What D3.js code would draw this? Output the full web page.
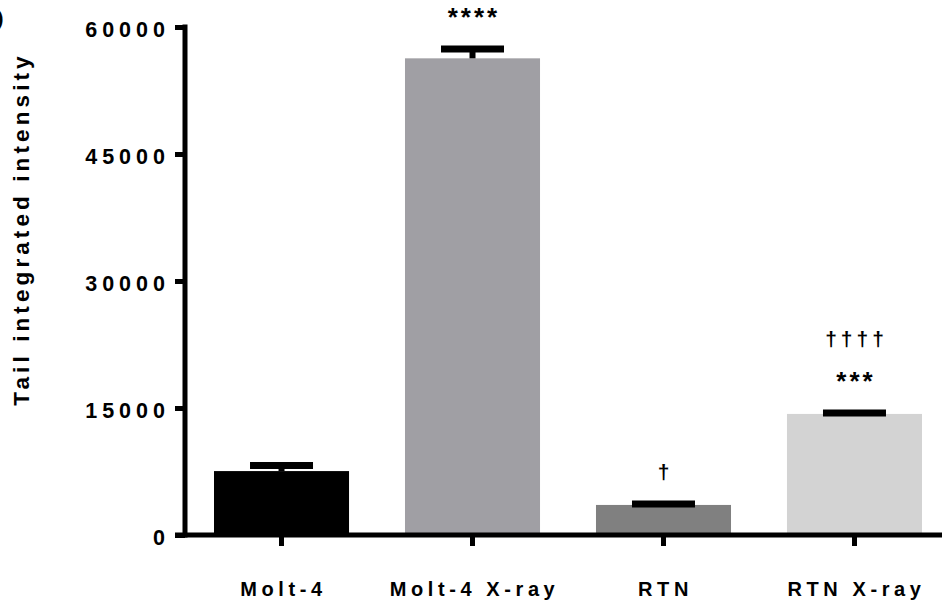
<!DOCTYPE html>
<html>
<head>
<meta charset="utf-8">
<script src="https://cdn.jsdelivr.net/npm/d3@7"></script>
<style>
  body { margin: 0; background: #fff; }
  svg { display: block; font-family: "Liberation Sans", Arial, sans-serif; font-weight: bold; }
</style>
</head>
<body>
<div id="chart"></div>
<script>
// data
const categories = ["Molt-4", "Molt-4 X-ray", "RTN", "RTN X-ray"];
const means = [7550, 56300, 3550, 14300];
const errors = [650, 1100, 120, 100];
const colors = ["#000000", "#a09fa4", "#808080", "#d3d3d3"];
const marks = ["", "****", "\u2020", "\u2020\u2020\u2020\u2020\n***"];
const yTicks = [0, 15000, 30000, 45000, 60000];

const width = 942, height = 605;

const svg = d3.select("#chart").append("svg")
    .attr("width", width)
    .attr("height", height);

const y = d3.scaleLinear().domain([0, 60000]).range([535, 27]);
const x = d3.scaleBand()
    .domain(categories)
    .range([214, 922])
    .paddingInner(0.293)
    .paddingOuter(0);

// panel letter, mostly cut off like in the source figure
svg.append("text")
    .attr("x", -22).attr("y", 33)
    .attr("font-size", 36)
    .text("D");

// bars
svg.selectAll("rect.bar")
    .data(categories)
    .enter().append("rect")
    .attr("class", "bar")
    .attr("x", d => x(d))
    .attr("width", x.bandwidth())
    .attr("y", (d, i) => y(means[i]))
    .attr("height", (d, i) => y(0) - y(means[i]))
    .attr("fill", (d, i) => colors[i]);

// error bars
const capW = 63;
const eb = svg.selectAll("g.err")
    .data(categories)
    .enter().append("g")
    .attr("class", "err");
eb.append("line")
    .attr("x1", d => x(d) + x.bandwidth() / 2)
    .attr("x2", d => x(d) + x.bandwidth() / 2)
    .attr("y1", (d, i) => y(means[i]))
    .attr("y2", (d, i) => y(means[i] + errors[i]))
    .attr("stroke", "#000").attr("stroke-width", 6);
eb.append("line")
    .attr("x1", d => x(d) + x.bandwidth() / 2 - capW / 2)
    .attr("x2", d => x(d) + x.bandwidth() / 2 + capW / 2)
    .attr("y1", (d, i) => y(means[i] + errors[i]))
    .attr("y2", (d, i) => y(means[i] + errors[i]))
    .attr("stroke", "#000").attr("stroke-width", 7);

// significance marks
categories.forEach((c, i) => {
    if (!marks[i]) return;
    const lines = marks[i].split("\n");
    const top = y(means[i] + errors[i]);
    lines.reverse().forEach((t, j) => {
        const isStar = t.startsWith("*");
        svg.append("text")
            .attr("x", x(c) + x.bandwidth() / 2 + (isStar ? 1.5 : 2))
            .attr("y", top - (isStar ? 23 : 25) - j * 42)
            .attr("text-anchor", "middle")
            .attr("font-size", isStar ? 26 : 21)
            .attr("letter-spacing", isStar ? 3 : 4)
            .text(t);
    });
});

// y axis
const yAxis = svg.append("g").attr("transform", "translate(185,0)")
    .call(d3.axisLeft(y).tickValues(yTicks).tickSize(10).tickFormat(d3.format("d")));
yAxis.select(".domain").remove();
yAxis.selectAll(".tick line").attr("stroke", "#000").attr("stroke-width", 5);
yAxis.selectAll(".tick text")
    .attr("x", -15)
    .attr("dy", "0.45em")
    .attr("fill", "#000")
    .attr("font-size", 21.5)
    .attr("font-family", "Liberation Sans, Arial, sans-serif")
    .attr("font-weight", "bold")
    .attr("letter-spacing", 5);
svg.append("line")
    .attr("x1", 185).attr("x2", 185)
    .attr("y1", y(60000) - 2.5).attr("y2", y(0) + 2.5)
    .attr("stroke", "#000").attr("stroke-width", 5);

// x axis
const xAxis = svg.append("g").attr("transform", `translate(0,${y(0)})`)
    .call(d3.axisBottom(x).tickSize(11).tickPadding(36));
xAxis.select(".domain").remove();
xAxis.selectAll(".tick line").attr("stroke", "#000").attr("stroke-width", 5);
xAxis.selectAll(".tick text")
    .attr("fill", "#000")
    .attr("dx", 2)
    .attr("font-size", 20)
    .attr("font-family", "Liberation Sans, Arial, sans-serif")
    .attr("font-weight", "bold")
    .attr("letter-spacing", 4.6);
svg.append("line")
    .attr("x1", 175).attr("x2", width)
    .attr("y1", y(0)).attr("y2", y(0))
    .attr("stroke", "#000").attr("stroke-width", 5);

// y title
svg.append("text")
    .attr("transform", "translate(29,229) rotate(-90)")
    .attr("text-anchor", "middle")
    .attr("font-size", 22.5)
    .attr("letter-spacing", 4.1)
    .text("Tail integrated intensity");
</script>
</body>
</html>
